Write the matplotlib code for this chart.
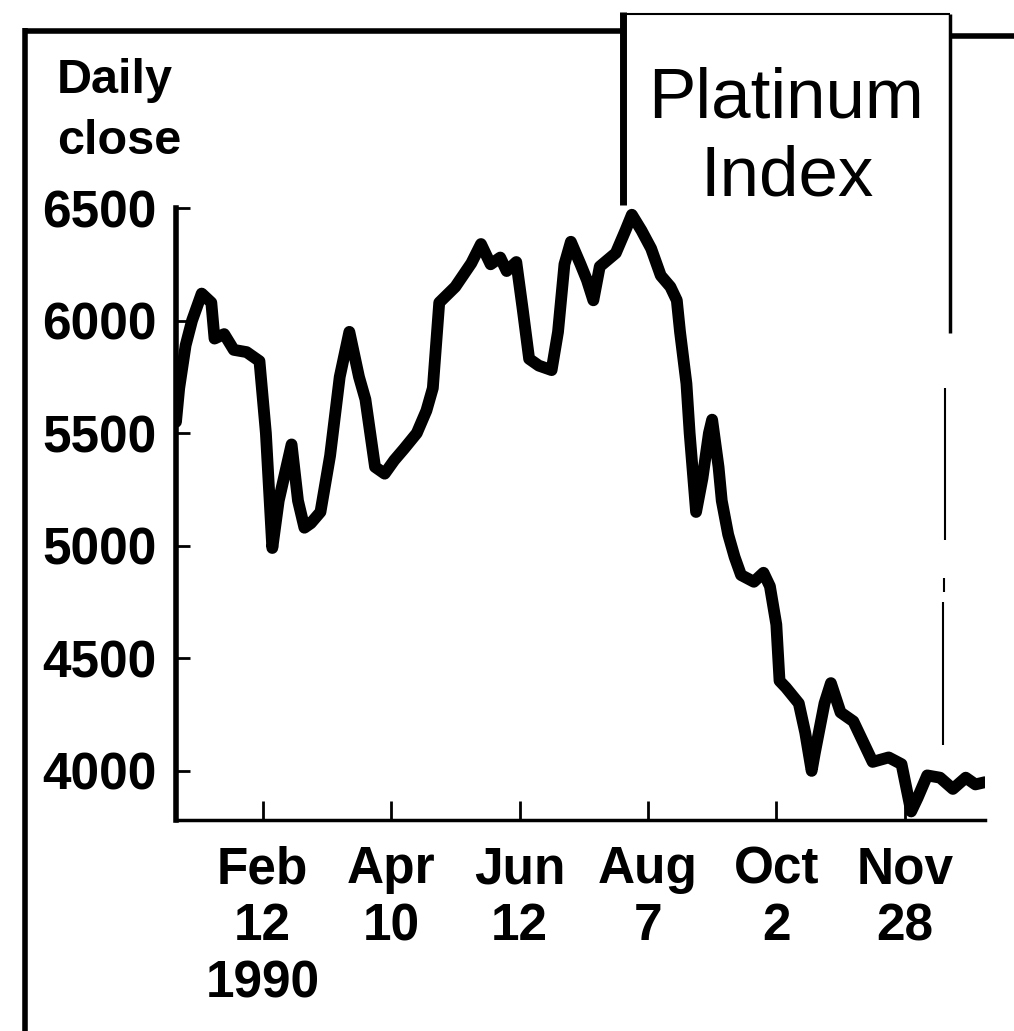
import matplotlib
matplotlib.use("Agg")
import matplotlib.pyplot as plt
from matplotlib.lines import Line2D

# trading-day index (0 = first session of 1990) and daily close
day = [0, 1, 3, 5, 8, 11, 12, 15, 18, 22, 26, 28, 30, 32, 36, 38, 40, 42, 45, 48,
       51, 54, 57, 59, 62, 65, 68, 71, 75, 78, 80, 82, 87, 92, 95, 98, 101, 103, 106, 108,
       110, 113, 117, 119, 121, 123, 126, 128, 130, 132, 137, 140, 142, 145, 148, 151, 154, 156, 157, 159,
       160, 162, 164, 166, 167, 169, 170, 172, 174, 176, 180, 183, 185, 187, 188, 190, 194, 196, 198, 199,
       202, 204, 207, 211, 215, 217, 222, 226, 229, 231, 234, 238, 242, 246, 249, 252]
close = [5550, 5700, 5890, 6000, 6120, 6080, 5920, 5940, 5870, 5860, 5820, 5500, 4990, 5200, 5450, 5200, 5080, 5100, 5150, 5400,
         5750, 5950, 5750, 5650, 5350, 5320, 5380, 5430, 5500, 5600, 5700, 6080, 6150, 6255, 6340, 6250, 6280, 6220, 6260, 6050,
         5830, 5800, 5780, 5950, 6250, 6350, 6250, 6180, 6090, 6240, 6300, 6400, 6470, 6400, 6320, 6200, 6150, 6090, 5950, 5720,
         5500, 5150, 5300, 5500, 5560, 5350, 5200, 5050, 4950, 4870, 4840, 4880, 4820, 4650, 4400, 4370, 4300, 4170, 4000, 4080,
         4300, 4390, 4260, 4220, 4100, 4040, 4060, 4030, 3820, 3880, 3980, 3970, 3920, 3970, 3940, 3950]

x_ticks = [27, 67, 107, 147, 187, 227]
x_labels = ['Feb\n12\n1990', 'Apr\n10', 'Jun\n12', 'Aug\n7', 'Oct\n2', 'Nov\n28']
y_ticks = [4000, 4500, 5000, 5500, 6000, 6500]

W, H = 1014, 1031
fig = plt.figure(figsize=(W / 100, H / 100), dpi=100)
fig.patch.set_facecolor('white')


def px(x, y):
    """pixel coords (from top-left) -> figure fraction"""
    return x / W, 1 - y / H


def frame_line(xs, ys, lw):
    fx = [x / W for x in xs]
    fy = [1 - y / H for y in ys]
    fig.add_artist(Line2D(fx, fy, color='black', linewidth=lw, solid_capstyle='butt'))


# axes box
ax = fig.add_axes([176 / W, 1 - 820 / H, (985 - 176) / W, (820 - 208) / H])
ax.plot(day, close, color='black', linewidth=8.5, solid_joinstyle='round',
        solid_capstyle='round')
ax.set_xlim(0, 252)
ax.set_ylim(3782, 6500)

for side in ['top', 'right']:
    ax.spines[side].set_visible(False)
ax.spines['left'].set_linewidth(4)
ax.spines['bottom'].set_linewidth(2.5)

lab_font = dict(family='Liberation Sans', weight='bold', size=37)
ax.set_yticks(y_ticks)
ax.set_yticklabels([str(v) for v in y_ticks], fontdict=lab_font)
ax.set_xticks(x_ticks)
ax.set_xticklabels(x_labels, fontdict=lab_font, linespacing=1.22, va='top')
ax.tick_params(axis='y', direction='in', length=10, width=2, pad=14)
ax.tick_params(axis='x', direction='in', length=14, width=2, pad=18)

# axis caption
fig.text(*px(57, 58), 'Daily\nclose', ha='left', va='top', family='Liberation Sans',
         weight='bold', size=35, linespacing=1.45)

# outer frame
frame_line([25, 25], [28, H], 4)
frame_line([23, 622], [31, 31], 4)
frame_line([950, W], [36, 36], 4)

# title box
frame_line([623, 623], [12, 205], 5)
frame_line([620, 950], [14, 14], 1.5)
frame_line([950, 950], [14, 333], 2.5)
frame_line([945, 945], [388, 540], 1.5)
frame_line([944, 944], [578, 592], 1.5)
frame_line([943, 943], [602, 745], 1.5)

fig.text(*px(786, 118), 'Platinum', ha='center', va='baseline',
         family='Liberation Sans', size=51)
fig.text(*px(787, 195), 'Index', ha='center', va='baseline',
         family='Liberation Sans', size=51)

fig.savefig('out.png', dpi=100, facecolor='white')
